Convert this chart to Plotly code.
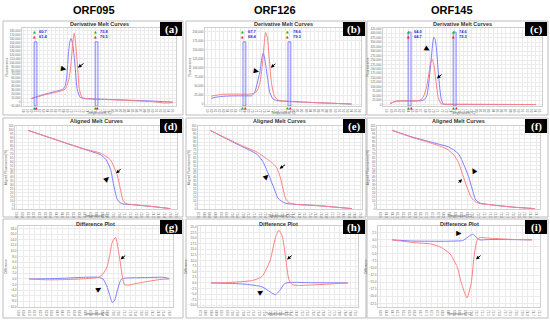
import plotly.graph_objects as go

W, H = 550, 321
BLUE = "#7c7cff"
RED = "#ff7f7f"

# ---------------- data ----------------
# Row 1: derivative melt curves (temperature, -dF/dT)
a_blue_t = [60, 61.5, 63, 64.5, 66, 67, 67.9, 68.4, 68.8, 69.2, 69.55, 69.85, 70.15, 70.5, 70.85, 71.4, 72.1, 73, 75, 78, 82, 86, 90, 93, 95]
a_blue_v = [9000, 14000, 19000, 23000, 27000, 29500, 33000, 42000, 66000, 125000, 153000, 161000, 152000, 126000, 88000, 30000, 12000, 9000, 8000, 7000, 5500, 4000, 2500, 1000, 0]
a_red_t = [60, 61.5, 63, 64.5, 66, 67, 67.8, 68.4, 68.9, 69.3, 69.6, 70.0, 70.3, 70.6, 70.9, 71.27, 71.6, 71.9, 72.5, 73.3, 75, 78, 82, 86, 90, 93, 95]
a_red_v = [9000, 13000, 17500, 21000, 24500, 27000, 29500, 33000, 45000, 58000, 76000, 118000, 152000, 174000, 155000, 112000, 66000, 32500, 13000, 9000, 7500, 6500, 5000, 3000, 1000, -2500, -1500]

b_blue_t = [60, 61.5, 63, 65, 67, 69, 69.8, 70.5, 71.0, 71.8, 72.3, 72.6, 72.95, 73.7, 74.2, 75.0, 76.2, 78.7, 82, 86, 90, 94]
b_blue_v = [16000, 19500, 21500, 22500, 22700, 22700, 23000, 32000, 50000, 90000, 128000, 141000, 127000, 68500, 32000, 13700, 9000, 7400, 5500, 3500, 1800, 0]
b_red_t = [60, 61.5, 63, 65, 67, 69, 70.5, 71.2, 71.8, 72.4, 72.85, 73.2, 73.6, 74.1, 74.6, 75.3, 76.2, 78.7, 82, 86, 90, 94]
b_red_v = [22000, 25000, 27000, 27400, 27400, 27400, 30000, 38000, 59000, 108000, 168000, 198000, 185000, 123000, 59000, 22700, 11000, 7400, 5500, 3500, 1800, 0]

c_blue_t = [59.8, 61, 62.5, 64, 66, 67.3, 67.9, 68.4, 68.8, 69.2, 69.55, 69.8, 70.05, 70.35, 70.65, 71.0, 71.4, 71.8, 72.3, 74, 78, 85, 90, 94]
c_blue_v = [6000, 17000, 20000, 20000, 20000, 22000, 30000, 49000, 110000, 197000, 285000, 345000, 378000, 368000, 320000, 215000, 104000, 30000, 3000, 1500, 1000, 500, 200, 0]
c_red_t = [59.8, 61, 62.5, 64, 66, 66.8, 67.2, 67.8, 68.4, 68.8, 69.2, 69.6, 70.1, 70.6, 71.1, 71.8, 72.5, 74, 78, 85, 90, 94]
c_red_v = [6000, 18000, 21000, 21000, 22000, 25000, 30000, 55000, 104000, 160000, 222000, 257000, 218000, 123000, 40000, 3000, 1500, 1000, 800, 500, 200, 0]

# Row 2: aligned melt curves (temperature, %)
d_blue_t = [61, 63, 65, 67, 68.6, 69.2, 69.7, 70.0, 70.4, 70.7, 71.0, 72, 74, 76]
d_blue_v = [100, 91.8, 83.6, 75.5, 69, 63, 50, 32, 12, 7.5, 6, 5, 2.8, 0]
d_red_t = [61, 63, 65, 67, 68.6, 69.2, 69.7, 70.0, 70.4, 70.7, 71.0, 71.3, 72, 74, 76]
d_red_v = [100, 91.8, 83.8, 76, 71, 67, 62, 55, 43, 27, 11, 6.5, 5.2, 2.8, 0]

e_blue_t = [68.4, 69.5, 70.5, 71.2, 71.8, 72.2, 72.6, 73.0, 73.3, 73.8, 74.5, 76, 78.6]
e_blue_v = [100, 90, 81, 75, 69, 60, 44, 26, 13, 7, 5.5, 4, 0]
e_red_t = [68.4, 69.5, 70.5, 71.2, 71.8, 72.6, 72.9, 73.2, 73.45, 73.65, 73.85, 74.1, 74.5, 76, 78.6]
e_red_v = [100, 90.5, 82, 76.5, 72, 62, 58, 52, 40, 25, 12, 7.5, 5.5, 4, 0]

f_blue_t = [64.7, 66, 67, 68, 68.6, 69.3, 69.7, 70.0, 70.3, 70.5, 70.8, 71.5, 73, 74.6]
f_blue_v = [100, 92, 87, 82, 79, 70, 55, 41, 22, 11, 7, 5, 2, 0]
f_red_t = [64.7, 66, 67, 68, 68.6, 69.0, 69.3, 69.6, 69.9, 70.2, 70.5, 70.8, 71.5, 73, 74.6]
f_red_v = [100, 91.5, 86, 80, 75, 68, 59, 43, 27, 14, 8.5, 6.5, 5, 2, 0]

# Row 3: difference plots (temperature, difference)
g_blue_t = [61, 63, 65, 67, 68.4, 68.9, 69.3, 69.6, 69.9, 70.15, 70.4, 70.7, 70.9, 71.3, 72, 73.5, 75.3, 76]
g_blue_v = [0, 0.1, 0.3, 0.6, 0.6, 0, -2.4, -5.6, -8.4, -7.6, -4.6, -1.2, 0, 0.3, 0.4, 0.5, 0.6, 0.2]
g_red_t = [61, 63, 65, 67, 68.4, 68.9, 69.3, 69.6, 69.9, 70.25, 70.6, 71.0, 71.2, 71.6, 72.2, 73.5, 75, 76]
g_red_v = [0, -0.3, -0.2, 0.1, 0.6, 1.8, 4.0, 8.0, 13.2, 14.8, 9.2, 0.4, -2.0, -2.2, -1.8, -1.0, -0.2, 0]

h_blue_t = [68.4, 70, 71, 72.2, 72.8, 73.2, 73.5, 73.9, 74.4, 75.5, 77, 78.6]
h_blue_v = [0, -0.25, -0.6, -1.75, -4.0, -5.25, -3.5, -0.25, 0.25, 0.12, 0.05, 0]
h_red_t = [68.4, 69.5, 70.5, 71.5, 72.2, 72.8, 73.2, 73.45, 73.7, 73.95, 74.2, 74.45, 74.9, 76, 77.5, 78.6]
h_red_v = [0, 0.12, 0.5, 1.1, 2.9, 10.0, 20.2, 23.5, 21.0, 11.5, 1.5, -0.75, -1.1, -0.9, -0.4, 0]

i_blue_t = [64.7, 66, 67.5, 68.5, 69.3, 69.7, 70.0, 70.4, 70.7, 70.9, 71.5, 73, 74.6]
i_blue_v = [0, -0.4, -0.5, -0.5, -0.4, -0.25, 0.75, 2.0, 0.75, 0, 0.1, 0.1, 0]
i_red_t = [64.7, 66.3, 67.5, 68.2, 68.8, 69.3, 69.6, 70.0, 70.3, 70.5, 70.7, 70.9, 71.8, 73.4, 74.6]
i_red_v = [0, -1.0, -1.5, -2.75, -5.0, -9.5, -15.25, -20.5, -15.25, -6.0, -0.25, 0.75, 0.5, 0.12, 0]

# melt-region bars (pre-melt start/end, post-melt start/end) for row 1
bars_a = [(60.7, 61.4), (75.8, 76.5)]
bars_b = [(67.7, 68.4), (78.6, 79.3)]
bars_c = [(64.0, 64.7), (74.6, 75.3)]

col_titles = ["ORF095", "ORF126", "ORF145"]
row_titles = ["Derivative Melt Curves", "Aligned Melt Curves", "Difference Plot"]
y_titles = ["Fluorescence", "Aligned Fluorescence(%)", "Difference"]
x_title = "Temperature(°C)"
labels = ["(a)", "(b)", "(c)", "(d)", "(e)", "(f)", "(g)", "(h)", "(i)"]

# ---------------- layout geometry (pixels) ----------------
plot_px = [
    (22, 176, 28, 106), (205, 361, 28, 106), (383, 542, 28, 106),
    (15, 177, 126, 209), (198, 362, 126, 209), (377, 540, 126, 209),
    (18, 173, 226, 307), (198, 358, 226, 307), (378, 540, 226, 307),
]
box_cols = [(3, 183), (186, 366), (367, 548)]
box_rows = [(21, 115), (118, 217), (219, 318)]
title_dy = [3.2, 3.2, 4.5]

xranges = [[57.7, 95.8], [58.5, 96.3], [58.1, 95.5],
           [59.63, 76.7], [67.54, 79.32], [63.66, 74.95],
           [59.8, 76.4], [67.43, 79.35], [63.7, 75.17]]
yranges = [[-10000, 187500], [-5500, 211000], [-8300, 430500],
           [-0.5, 105.5], [-0.5, 105.5], [-0.5, 105.5],
           [-10, 18.9], [-10.75, 25.4], [-23.75, 4.9]]
xdticks = [1, 1, 1, 0.6, 0.4, 0.4, 0.6, 0.4, 0.4]
xtick0 = [58, 59, 59, 61, 68.4, 64.7, 61, 68.4, 64.7]
ydticks = [10000, 25000, 25000, 5, 5, 5, 2, 2.5, 2.5]

series = [
    (a_blue_t, a_blue_v, a_red_t, a_red_v), (b_blue_t, b_blue_v, b_red_t, b_red_v), (c_blue_t, c_blue_v, c_red_t, c_red_v),
    (d_blue_t, d_blue_v, d_red_t, d_red_v), (e_blue_t, e_blue_v, e_red_t, e_red_v), (f_blue_t, f_blue_v, f_red_t, f_red_v),
    (g_blue_t, g_blue_v, g_red_t, g_red_v), (h_blue_t, h_blue_v, h_red_t, h_red_v), (i_blue_t, i_blue_v, i_red_t, i_red_v),
]

# pointer marks: (triangle x, y, angle), (arrow head x, y, ax, ay)
triangles = [(67.9, 82500, 100), (70.85, 90400, 100), (68.5, 308000, 120),
             (69.35, 37.5, 45), (72.5, 41, 45), (70.4, 49, -30),
             (68.45, -3.7, 60), (72.1, -4.2, 60), (69.45, 2.07, 90)]
arrows = [(71.55, 87500, 7, -5), (74.45, 101000, 6, -5), (70.8, 147000, 6, -5),
          (70.3, 45, 6, -6), (73.4, 51, 7, -5), (69.55, 37.5, -5, 5),
          (70.8, 7.0, 6, -5), (74.07, 10.5, 6, -5), (70.64, -6.9, 6, -5)]

bar_tops = [152500, 172600, 408000]
all_bars = [bars_a, bars_b, bars_c]

FONT = "Liberation Sans, Arial, sans-serif"


def pxx(x):
    return x / W


def pyy(y):
    return 1 - y / H


fig = go.Figure()
layout = dict(
    width=W, height=H, margin=dict(l=0, r=0, t=0, b=0),
    paper_bgcolor="white", plot_bgcolor="white", showlegend=False,
    font=dict(family=FONT, color="#333"),
)
shapes = []
annotations = []

for k in range(9):
    n = k + 1
    sfx = "" if n == 1 else str(n)
    xa, ya = "x" + sfx, "y" + sfx
    row, col = divmod(k, 3)
    l, r, t, b = plot_px[k]
    bt, bb = series[k][0], series[k][1]
    rt, rv = series[k][2], series[k][3]
    fig.add_trace(go.Scatter(x=bt, y=bb, mode="lines", xaxis=xa, yaxis=ya,
                             line=dict(color=BLUE, width=1, shape="spline", smoothing=0.6)))
    fig.add_trace(go.Scatter(x=rt, y=rv, mode="lines", xaxis=xa, yaxis=ya,
                             line=dict(color=RED, width=1, shape="spline", smoothing=0.6)))
    yfmt = ",d" if row == 0 else (".0f" if row == 1 else ".1f")
    layout["xaxis" + sfx] = dict(
        domain=[pxx(l), pxx(r)], range=xranges[k], anchor=ya, automargin=False,
        dtick=xdticks[k], tick0=xtick0[k], showgrid=True, gridcolor="#ebebeb", gridwidth=1,
        zeroline=False, showline=True, linecolor="#cfcfcf", linewidth=1, mirror=True,
        tickfont=dict(size=3, color="#666"), ticks="", ticklen=0,
        tickformat=".1f" if row > 0 else "d",
    )
    layout["yaxis" + sfx] = dict(
        domain=[pyy(b), pyy(t)], range=yranges[k], anchor=xa, automargin=False,
        dtick=ydticks[k], showgrid=True, gridcolor="#ebebeb", gridwidth=1,
        zeroline=False, showline=True, linecolor="#cfcfcf", linewidth=1, mirror=True,
        tickfont=dict(size=3, color="#666"), ticks="", ticklen=0, tickformat=yfmt,
        title=dict(text=y_titles[row], font=dict(size=3.2, color="#555"), standoff=1),
    )
    # x-axis title
    annotations.append(dict(xref="paper", yref="paper", x=pxx((l + r) / 2), y=pyy(b + 7),
                            text=x_title, showarrow=False, font=dict(size=3.3, color="#555", family=FONT),
                            xanchor="center", yanchor="middle"))

    # panel frame
    bx0, bx1 = box_cols[col]
    by0, by1 = box_rows[row]
    shapes.append(dict(type="rect", xref="paper", yref="paper",
                       x0=pxx(bx0), x1=pxx(bx1), y0=pyy(by1), y1=pyy(by0),
                       line=dict(color="#bdbdbd", width=1), fillcolor="rgba(0,0,0,0)", layer="below"))
    # panel title
    annotations.append(dict(xref="paper", yref="paper", x=pxx((l + r) / 2), y=pyy(by0 + title_dy[row]),
                            text="<b>" + row_titles[row] + "</b>", showarrow=False,
                            font=dict(size=5.5, color="#333", family=FONT), xanchor="center", yanchor="middle"))
    # black label box
    lx1 = bx1 - 1
    lx0 = lx1 - 22
    ly0 = by0 + 1
    ly1 = ly0 + 14
    shapes.append(dict(type="rect", xref="paper", yref="paper",
                       x0=pxx(lx0), x1=pxx(lx1), y0=pyy(ly1), y1=pyy(ly0),
                       line=dict(width=0), fillcolor="black", layer="above"))
    annotations.append(dict(xref="paper", yref="paper", x=pxx((lx0 + lx1) / 2), y=pyy((ly0 + ly1) / 2),
                            text="<b>" + labels[k] + "</b>", showarrow=False,
                            font=dict(size=11, color="white", family="Liberation Serif, Times New Roman, serif"),
                            xanchor="center", yanchor="middle"))
    # pointer triangle
    tx, ty, tang = triangles[k]
    annotations.append(dict(xref=xa, yref=ya, x=tx, y=ty, text="▲", showarrow=False, textangle=tang,
                            font=dict(size=7, color="black", family="DejaVu Sans"),
                            xanchor="center", yanchor="middle"))
    # pointer arrow
    hx, hy, axo, ayo = arrows[k]
    annotations.append(dict(xref=xa, yref=ya, x=hx, y=hy, text="", showarrow=True,
                            ax=axo, ay=ayo, arrowhead=2, arrowsize=0.7, arrowwidth=1, arrowcolor="black"))

    # melt-region bars on derivative plots
    if row == 0:
        for (v0, v1) in all_bars[col]:
            shapes.append(dict(type="rect", xref=xa, yref=ya, x0=v0, x1=v1,
                               y0=yranges[k][0], y1=bar_tops[col],
                               line=dict(color="#6a6aff", width=0.8),
                               fillcolor="rgba(190,190,255,0.25)", layer="above"))
            for (val, clr, yd) in [(v0, "#22aa22", 0.955), (v1, "#ee2222", 0.885)]:
                annotations.append(dict(xref=xa, yref=ya + " domain", x=v0, y=yd, text="▲",
                                        showarrow=False, font=dict(size=3.5, color=clr, family="DejaVu Sans"),
                                        xanchor="center", yanchor="middle"))
                annotations.append(dict(xref=xa, yref=ya + " domain", x=v1, y=yd,
                                        text="<b>%.1f</b>" % val, showarrow=False,
                                        font=dict(size=4, color="#2222dd", family=FONT),
                                        xanchor="left", yanchor="middle", xshift=0.5))
            for (val, clr) in [(v0, "#22aa22"), (v1, "#ee2222")]:
                annotations.append(dict(xref=xa, yref=ya + " domain", x=val, y=-0.02, text="▲",
                                        showarrow=False, font=dict(size=3.5, color=clr, family="DejaVu Sans"),
                                        xanchor="center", yanchor="middle"))

# column headers
col_centers = [94, 275, 452]
for c in range(3):
    annotations.append(dict(xref="paper", yref="paper", x=pxx(col_centers[c]), y=pyy(10),
                            text="<b>" + col_titles[c] + "</b>", showarrow=False,
                            font=dict(size=11, color="black", family=FONT),
                            xanchor="center", yanchor="middle"))

layout["shapes"] = shapes
layout["annotations"] = annotations
fig.update_layout(**layout)
fig.write_html(
    "out.html",
    config={"displayModeBar": False},
    post_script="document.documentElement.style.margin='0';document.body.style.margin='0';"
                "document.body.style.overflow='hidden';",
)
